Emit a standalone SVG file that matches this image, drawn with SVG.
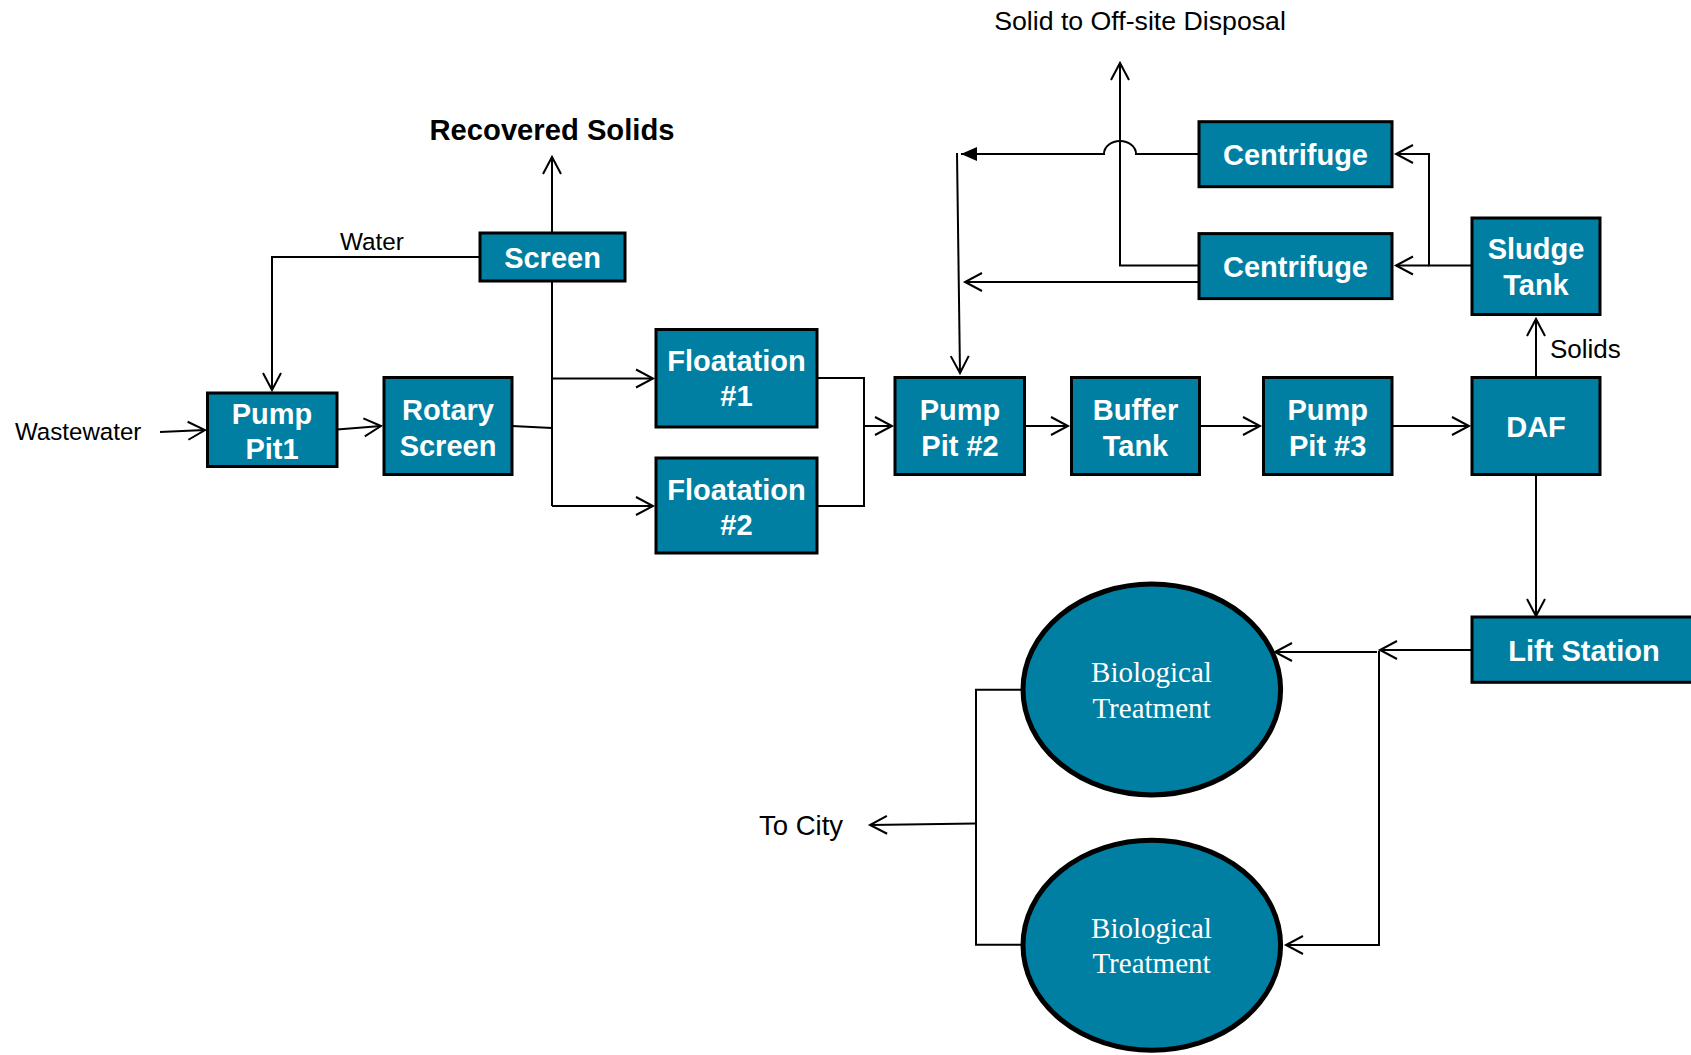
<svg xmlns="http://www.w3.org/2000/svg" width="1691" height="1055" viewBox="0 0 1691 1055">
<style>
.box{fill:#007FA3;stroke:#000;stroke-width:3}
.ell{fill:#007FA3;stroke:#000;stroke-width:5}
.bt{font-family:"Liberation Sans",Arial,sans-serif;font-weight:bold;font-size:29px;fill:#fff;text-anchor:middle}
.et{font-family:"Liberation Serif","Times New Roman",serif;font-size:29px;fill:#fff;text-anchor:middle}
.lbl{font-family:"Liberation Sans",Arial,sans-serif;fill:#000}
.c{fill:none;stroke:#000;stroke-width:2}
.oa{marker-end:url(#open)}
</style>
<defs>
<marker id="open" markerUnits="userSpaceOnUse" markerWidth="24" markerHeight="24" viewBox="-20 -12 24 24" refX="0" refY="0" orient="auto" overflow="visible"><path d="M-17,-9 L0,0 L-17,9" fill="none" stroke="#000" stroke-width="2"/></marker>
<marker id="fill" markerUnits="userSpaceOnUse" markerWidth="24" markerHeight="24" viewBox="-20 -12 24 24" refX="0" refY="0" orient="auto" overflow="visible"><path d="M-16,-7 L0,0 L-16,7 Z" fill="#000"/></marker>
</defs>
<rect width="1691" height="1055" fill="#fff"/>

<g id="connectors">
<path class="c oa" d="M160,432 L205,430"/>
<path class="c oa" d="M337,429.5 L381,426"/>
<path class="c" d="M512,426 L552,428"/>
<path class="c" d="M552,281 L552,506"/>
<path class="c oa" d="M552,378.5 L653,378.5"/>
<path class="c oa" d="M552,506 L653,506"/>
<path class="c oa" d="M552,233 L552,157"/>
<path class="c oa" d="M480,257 L272,257 L272,390"/>
<path class="c" d="M817,378 L864,378 L864,506 L817,506"/>
<path class="c oa" d="M864,426 L892,426"/>
<path class="c oa" d="M1024.5,426 L1068,426"/>
<path class="c oa" d="M1200,426 L1260,426"/>
<path class="c oa" d="M1392,426 L1469,426"/>
<path class="c oa" d="M1536,377.5 L1536,319"/>
<path class="c oa" d="M1536,474.6 L1536,616"/>
<path class="c oa" d="M1472,265.5 L1429,265.5 L1429,154 L1396,154"/>
<path class="c oa" d="M1429,265.5 L1396,265.5"/>
<path class="c oa" d="M1199,265.5 L1120,265.5 L1120,63"/>
<path class="c oa" d="M1199,282 L965,282"/>
<path class="c" d="M1199,154 L1136,154 A16,13 0 0 0 1104,154 L961,154" marker-end="url(#fill)"/>
<path class="c oa" d="M957,153 L960,373"/>
<path class="c oa" d="M1472,650 L1380,650"/>
<path class="c oa" d="M1377,652 L1275,652"/>
<path class="c oa" d="M1379,651 L1379,945 L1286,945"/>
<path class="c" d="M1023,689.7 L976,689.7 L976,944.8 L1023,944.8"/>
<path class="c oa" d="M976,823.5 L870,825"/>
</g>

<g id="labels">
<text class="lbl" x="1140" y="29.6" text-anchor="middle" style="font-size:26.7px">Solid to Off-site Disposal</text>
<text class="lbl" x="552" y="139.5" text-anchor="middle" style="font-size:29.2px;font-weight:bold">Recovered Solids</text>
<text class="lbl" x="340" y="250" style="font-size:24.3px">Water</text>
<text class="lbl" x="15" y="440" style="font-size:24.1px">Wastewater</text>
<text class="lbl" x="1550" y="358" style="font-size:26px">Solids</text>
<text class="lbl" x="759" y="834.6" style="font-size:27.5px">To City</text>
</g>

<g id="screen"><rect class="box" x="480" y="233" width="145" height="48"/><text class="bt" x="552.5" y="268">Screen</text></g>
<g id="pumppit1"><rect class="box" x="207.5" y="393" width="129.5" height="73.5"/><text class="bt" x="272" y="423.5">Pump</text><text class="bt" x="272" y="459">Pit1</text></g>
<g id="rotary"><rect class="box" x="384" y="377.5" width="128" height="97"/><text class="bt" x="448" y="420">Rotary</text><text class="bt" x="448" y="455.5">Screen</text></g>
<g id="float1"><rect class="box" x="656" y="329.5" width="161" height="97.5"/><text class="bt" x="736.5" y="371">Floatation</text><text class="bt" x="736.5" y="406">#1</text></g>
<g id="float2"><rect class="box" x="656" y="458" width="161" height="95"/><text class="bt" x="736.5" y="499.5">Floatation</text><text class="bt" x="736.5" y="534.5">#2</text></g>
<g id="pumppit2"><rect class="box" x="895" y="377.5" width="129.5" height="97"/><text class="bt" x="960" y="420">Pump</text><text class="bt" x="960" y="455.5">Pit #2</text></g>
<g id="buffer"><rect class="box" x="1071.5" y="377.5" width="128" height="97"/><text class="bt" x="1135.5" y="420">Buffer</text><text class="bt" x="1135.5" y="455.5">Tank</text></g>
<g id="pumppit3"><rect class="box" x="1263.5" y="377.5" width="128.5" height="97"/><text class="bt" x="1327.7" y="420">Pump</text><text class="bt" x="1327.7" y="455.5">Pit #3</text></g>
<g id="daf"><rect class="box" x="1472" y="377.5" width="128" height="97"/><text class="bt" x="1536" y="437">DAF</text></g>
<g id="sludge"><rect class="box" x="1472" y="218" width="128" height="96.5"/><text class="bt" x="1536" y="259">Sludge</text><text class="bt" x="1536" y="295">Tank</text></g>
<g id="centrifuge1"><rect class="box" x="1199" y="121.7" width="193" height="65"/><text class="bt" x="1295.5" y="164.7">Centrifuge</text></g>
<g id="centrifuge2"><rect class="box" x="1199" y="233.6" width="193" height="65"/><text class="bt" x="1295.5" y="276.6">Centrifuge</text></g>
<g id="lift"><rect class="box" x="1472" y="617" width="228" height="65.3"/><text class="bt" x="1584" y="660.8">Lift Station</text></g>
<g id="bio1"><ellipse class="ell" cx="1151.8" cy="689.5" rx="128.8" ry="105.4"/><text class="et" x="1151.5" y="682.3">Biological</text><text class="et" x="1151.5" y="718">Treatment</text></g>
<g id="bio2"><ellipse class="ell" cx="1151.8" cy="945.3" rx="128.8" ry="105"/><text class="et" x="1151.5" y="937.8">Biological</text><text class="et" x="1151.5" y="973.4">Treatment</text></g>
</svg>
